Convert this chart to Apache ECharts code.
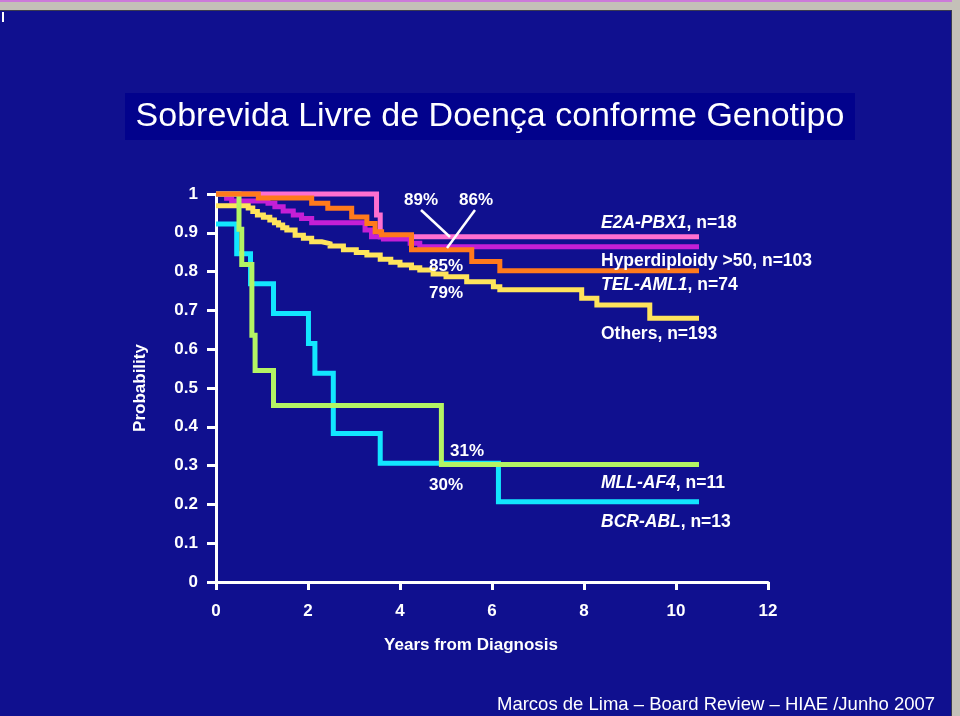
<!DOCTYPE html>
<html>
<head>
<meta charset="utf-8">
<script src="https://cdn.jsdelivr.net/npm/echarts@6/dist/echarts.min.js"></script>
<style>
  html, body { margin: 0; padding: 0; background: #10108f; }
  #chart { width: 960px; height: 716px; }
</style>
</head>
<body>
<div id="chart"></div>
<script>
// Kaplan-Meier step points [years, probability]
const e2aPbx1 = [[0, 1], [3.49, 0.946], [3.57, 0.89], [10.5, 0.89]];
const hyperdiploidy = [[0, 1], [0.23, 0.989], [0.34, 0.982], [1.13, 0.976], [1.28, 0.967], [1.46, 0.956],
  [1.68, 0.946], [1.86, 0.937], [2.08, 0.926], [3.24, 0.907], [3.38, 0.89], [3.64, 0.884],
  [4.22, 0.873], [4.43, 0.864], [10.5, 0.864]];
const telAml1 = [[0, 1], [0.92, 0.99], [2.08, 0.976], [2.43, 0.963], [2.95, 0.941], [3.28, 0.924],
  [3.46, 0.903], [3.6, 0.895], [4.25, 0.856], [5.56, 0.826], [6.17, 0.802], [10.5, 0.802]];
const others = [[0, 0.97], [0.7, 0.964], [0.8, 0.955], [0.9, 0.946], [1.03, 0.94], [1.17, 0.933],
  [1.27, 0.926], [1.36, 0.92], [1.45, 0.913], [1.54, 0.907], [1.72, 0.894], [1.9, 0.886],
  [2.08, 0.877], [2.3, 0.872], [2.48, 0.866], [2.77, 0.856], [3.05, 0.849], [3.28, 0.843],
  [3.57, 0.832], [3.8, 0.824], [4.0, 0.817], [4.25, 0.81], [4.43, 0.804], [4.72, 0.794],
  [5.0, 0.787], [5.45, 0.774], [6.03, 0.761], [6.17, 0.753], [7.95, 0.731], [8.28, 0.714],
  [9.43, 0.68], [10.5, 0.68]];
const mllAf4 = [[0, 1], [0.5, 0.909], [0.56, 0.818], [0.78, 0.636], [0.85, 0.545], [1.25, 0.455],
  [4.9, 0.303], [10.5, 0.303]];
const bcrAbl = [[0, 0.923], [0.45, 0.846], [0.75, 0.769], [1.25, 0.692], [2.01, 0.615], [2.15, 0.538],
  [2.55, 0.383], [3.57, 0.306], [6.14, 0.207], [10.5, 0.207]];

const xTicks = [0, 2, 4, 6, 8, 10, 12];
const yTicks = ['0', '0.1', '0.2', '0.3', '0.4', '0.5', '0.6', '0.7', '0.8', '0.9', '1'];

const FONT = '"Liberation Sans", Arial, sans-serif';
const BG = '#10108f';

function stepSeries(name, data, color, z) {
  return {
    name: name,
    type: 'line',
    step: 'end',
    data: data,
    symbol: 'none',
    clip: false,
    z: z,
    lineStyle: {color: color, width: 5, cap: 'butt', join: 'miter'}
  };
}

function pct(text, x, y) {
  return {
    type: 'text', x: x, y: y, z: 20,
    style: {text: text, fill: '#ffffff', font: 'bold 17px ' + FONT, textAlign: 'center', textVerticalAlign: 'middle'}
  };
}

function tag(italic, rest, y) {
  return {
    type: 'text', x: 601, y: y, z: 20,
    style: {
      text: (italic ? '{i|' + italic + '}' : '') + '{n|' + rest + '}',
      textVerticalAlign: 'middle',
      rich: {
        i: {fill: '#ffffff', font: 'italic bold 17.5px ' + FONT},
        n: {fill: '#ffffff', font: 'bold 17.5px ' + FONT}
      }
    }
  };
}

const chart = echarts.init(document.getElementById('chart'));

const option = {
  backgroundColor: BG,
  animation: false,
  grid: {left: 216, right: 192, top: 194, bottom: 134, containLabel: false},
  xAxis: {
    type: 'value',
    min: 0, max: 12, interval: 2,
    name: 'Years from Diagnosis',
    nameLocation: 'middle',
    nameGap: 55,
    nameTextStyle: {color: '#fff', fontFamily: FONT, fontWeight: 'bold', fontSize: 17, padding: [0, 42, 0, 0]},
    axisLine: {show: true, lineStyle: {color: '#fff', width: 3}},
    axisTick: {show: true, length: 8, lineStyle: {color: '#fff', width: 3}},
    axisLabel: {
      color: '#fff', fontFamily: FONT, fontWeight: 'bold', fontSize: 17, margin: 21,
      formatter: v => xTicks.indexOf(v) >= 0 ? String(v) : ''
    },
    splitLine: {show: false}
  },
  yAxis: {
    type: 'value',
    min: 0, max: 1, interval: 0.1,
    name: 'Probability',
    nameLocation: 'middle',
    nameGap: 67,
    nameRotate: 90,
    nameTextStyle: {color: '#fff', fontFamily: FONT, fontWeight: 'bold', fontSize: 17},
    axisLine: {show: true, lineStyle: {color: '#fff', width: 3}},
    axisTick: {show: true, length: 9, lineStyle: {color: '#fff', width: 3}},
    axisLabel: {
      color: '#fff', fontFamily: FONT, fontWeight: 'bold', fontSize: 17, margin: 18,
      formatter: v => yTicks[Math.round(v * 10)]
    },
    splitLine: {show: false}
  },
  series: [
    stepSeries('E2A-PBX1', e2aPbx1, '#ff6fd0', 2),
    stepSeries('Hyperdiploidy', hyperdiploidy, '#c41fd6', 3),
    stepSeries('Others', others, '#ffe45c', 4),
    stepSeries('BCR-ABL', bcrAbl, '#12e6ff', 5),
    stepSeries('MLL-AF4', mllAf4, '#b4f464', 6),
    stepSeries('TEL-AML1', telAml1, '#ff7a1c', 7)
  ],
  graphic: [
    // slide frame
    {type: 'rect', shape: {x: 0, y: 0, width: 960, height: 2}, style: {fill: '#cc7ad9'}, z: 30},
    {type: 'rect', shape: {x: 0, y: 2, width: 960, height: 8}, style: {fill: '#c4c0b8'}, z: 30},
    {type: 'rect', shape: {x: 0, y: 10, width: 952, height: 1}, style: {fill: '#3a3a50'}, z: 30},
    {type: 'rect', shape: {x: 952, y: 0, width: 8, height: 716}, style: {fill: '#c4c0b8'}, z: 30},
    {type: 'rect', shape: {x: 951, y: 10, width: 1, height: 706}, style: {fill: '#3a3a50'}, z: 30},
    {type: 'rect', shape: {x: 2, y: 12, width: 2, height: 10}, style: {fill: '#ffffff'}, z: 30},
    // title
    {type: 'rect', shape: {x: 125, y: 93, width: 730, height: 47}, style: {fill: '#02028c'}, z: 10},
    {
      type: 'text', x: 490, y: 117, z: 11,
      style: {
        text: 'Sobrevida Livre de Doença conforme Genotipo', fill: '#ffffff',
        font: '34px "Liberation Sans", Arial, sans-serif', textAlign: 'center', textVerticalAlign: 'middle'
      }
    },
    // footer
    {
      type: 'text', x: 497, y: 705, z: 11,
      style: {
        text: 'Marcos de Lima – Board Review – HIAE /Junho 2007', fill: '#ffffff',
        font: '18.5px "Liberation Sans", Arial, sans-serif', textVerticalAlign: 'middle'
      }
    },
    // percentages
    pct('89%', 421, 200),
    pct('86%', 476, 200),
    pct('85%', 446, 266),
    pct('79%', 446, 293),
    pct('31%', 467, 451),
    pct('30%', 446, 485),
    {type: 'line', z: 20, shape: {x1: 421, y1: 210, x2: 450, y2: 237}, style: {stroke: '#ffffff', lineWidth: 2.5}},
    {type: 'line', z: 20, shape: {x1: 475, y1: 210, x2: 447, y2: 248}, style: {stroke: '#ffffff', lineWidth: 2.5}},
    // curve names
    tag('E2A-PBX1', ', n=18', 223),
    tag('', 'Hyperdiploidy >50, n=103', 261),
    tag('TEL-AML1', ', n=74', 285),
    tag('', 'Others, n=193', 334),
    tag('MLL-AF4', ', n=11', 483),
    tag('BCR-ABL', ', n=13', 522)
  ]
};

chart.setOption(option);
</script>
</body>
</html>
